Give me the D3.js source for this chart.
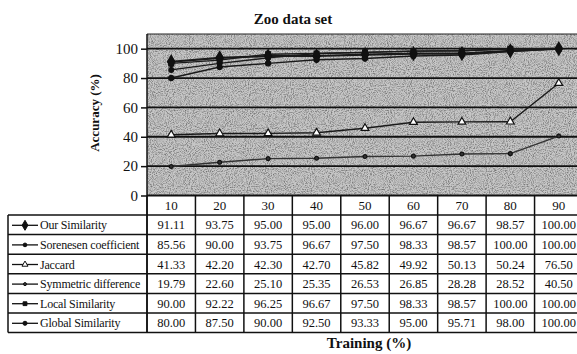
<!DOCTYPE html>
<html>
<head>
<meta charset="utf-8">
<script src="https://cdn.jsdelivr.net/npm/d3@7"></script>
<style>
  html, body { margin: 0; padding: 0; background: #fff; overflow: hidden; }
  svg { display: block; font-family: "Liberation Serif", "Times New Roman", serif; }
</style>
</head>
<body>
<svg id="chart" width="577" height="354"></svg>
<script>
// training percentages (x categories)
const trainingPct = ["10", "20", "30", "40", "50", "60", "70", "80", "90"];
const yTicks = [0, 20, 40, 60, 80, 100];

const seriesNames = ["Our Similarity", "Sorenesen coefficient", "Jaccard",
  "Symmetric difference", "Local Similarity", "Global Similarity"];

const ourSimilarity = [91.11, 93.75, 95.00, 95.00, 96.00, 96.67, 96.67, 98.57, 100.00];
const sorensen = [85.56, 90.00, 93.75, 96.67, 97.50, 98.33, 98.57, 100.00, 100.00];
const jaccard = [41.33, 42.20, 42.30, 42.70, 45.82, 49.92, 50.13, 50.24, 76.50];
const symmetricDiff = [19.79, 22.60, 25.10, 25.35, 26.53, 26.85, 28.28, 28.52, 40.50];
const localSimilarity = [90.00, 92.22, 96.25, 96.67, 97.50, 98.33, 98.57, 100.00, 100.00];
const globalSimilarity = [80.00, 87.50, 90.00, 92.50, 93.33, 95.00, 95.71, 98.00, 100.00];

const seriesValues = [ourSimilarity, sorensen, jaccard, symmetricDiff, localSimilarity, globalSimilarity];

// marker per series
const markers = [
  { type: d3.symbolDiamond, size: 48, fill: "#111" },
  { type: d3.symbolCircle, size: 18, fill: "#111" },
  { type: d3.symbolTriangle, size: 26, fill: "#fff" },
  { type: d3.symbolCircle, size: 12, fill: "#333" },
  { type: d3.symbolSquare, size: 24, fill: "#111" },
  { type: d3.symbolCircle, size: 22, fill: "#111" }
];

const svg = d3.select("#chart");

const plotLeft = 147, plotRight = 583, plotTop = 34, plotBottom = 195.5;
const legendLeft = 8;
const headerBottom = 215, rowH = 19.6;

const x = d3.scaleBand().domain(trainingPct).range([plotLeft, plotRight]);
const y = d3.scaleLinear().domain([0, 110]).range([plotBottom, plotTop]);
const xc = d => x(d) + x.bandwidth() / 2;

// scanned-looking gray texture for the plot area
const defs = svg.append("defs");
const f = defs.append("filter").attr("id", "grain")
  .attr("x", 0).attr("y", 0).attr("width", 1).attr("height", 1);
f.append("feTurbulence").attr("type", "fractalNoise")
  .attr("baseFrequency", 0.95).attr("numOctaves", 2).attr("seed", 4);
f.append("feColorMatrix").attr("type", "matrix")
  .attr("values", "0 0 0 0 0  0 0 0 0 0  0 0 0 0 0  0 0 0 -2.4 1.4");

svg.append("rect")
  .attr("x", plotLeft).attr("y", plotTop)
  .attr("width", plotRight - plotLeft).attr("height", plotBottom - plotTop)
  .attr("fill", "#c6c6c6");
svg.append("rect")
  .attr("x", plotLeft).attr("y", plotTop)
  .attr("width", plotRight - plotLeft).attr("height", plotBottom - plotTop)
  .attr("filter", "url(#grain)")
  .attr("opacity", 0.42);

// top border
svg.append("line")
  .attr("x1", plotLeft).attr("x2", plotRight)
  .attr("y1", plotTop).attr("y2", plotTop)
  .attr("stroke", "#222").attr("stroke-width", 1);

// gridlines
svg.append("g")
  .selectAll("line")
  .data(yTicks)
  .join("line")
  .attr("x1", plotLeft).attr("x2", plotRight)
  .attr("y1", d => y(d)).attr("y2", d => y(d))
  .attr("stroke", "#111").attr("stroke-width", 1.8);

// y axis
const yAxis = svg.append("g")
  .attr("transform", `translate(${plotLeft},0)`)
  .call(d3.axisLeft(y).tickValues(yTicks).tickSize(6).tickPadding(3));
yAxis.select(".domain").attr("stroke", "#111").attr("stroke-width", 1.5)
  .attr("d", `M0,${plotTop}V${headerBottom + rowH * 6}`);
yAxis.selectAll(".tick line").attr("stroke", "#111").attr("stroke-width", 1.5);
yAxis.selectAll(".tick text")
  .attr("fill", "#111")
  .style("font-size", "15px")
  .style("font-family", "'Liberation Serif', serif");

// series lines and markers
const line = d3.line()
  .x((d, i) => xc(trainingPct[i]))
  .y(d => y(d));

seriesValues.forEach((vals, si) => {
  const g = svg.append("g");
  g.append("path")
    .datum(vals)
    .attr("d", line)
    .attr("fill", "none")
    .attr("stroke", si === 3 ? "#333" : "#1a1a1a")
    .attr("stroke-width", si === 0 ? 2.2 : 1.4);
  g.selectAll("path.m")
    .data(vals)
    .join("path")
    .attr("class", "m")
    .attr("transform", (d, i) => `translate(${xc(trainingPct[i])},${y(d)})`)
    .attr("d", d3.symbol().type(markers[si].type).size(markers[si].size))
    .attr("fill", markers[si].fill)
    .attr("stroke", "#111")
    .attr("stroke-width", 1.2);
});

// data table
const tableBottom = headerBottom + rowH * 6;
const table = svg.append("g").attr("stroke", "#111").attr("stroke-width", 1.5);

// vertical column separators
const colEdges = trainingPct.map(d => x(d)).concat([plotRight]);
table.selectAll("line.v")
  .data(colEdges)
  .join("line")
  .attr("class", "v")
  .attr("x1", d => d).attr("x2", d => d)
  .attr("y1", plotBottom).attr("y2", tableBottom);

// horizontal row lines
const rowEdges = d3.range(7).map(i => headerBottom + rowH * i);
table.selectAll("line.h")
  .data(rowEdges)
  .join("line")
  .attr("class", "h")
  .attr("x1", legendLeft).attr("x2", plotRight)
  .attr("y1", d => d).attr("y2", d => d);
table.append("line")
  .attr("x1", legendLeft).attr("x2", legendLeft)
  .attr("y1", headerBottom).attr("y2", tableBottom);

// header labels
svg.append("g")
  .selectAll("text")
  .data(trainingPct)
  .join("text")
  .attr("x", d => xc(d))
  .attr("y", (plotBottom + headerBottom) / 2 + 5)
  .attr("text-anchor", "middle")
  .attr("fill", "#111")
  .style("font-size", "13px")
  .text(d => d);

// value cells
seriesValues.forEach((vals, si) => {
  const cy = headerBottom + rowH * si + rowH / 2 + 4.5;
  svg.append("g")
    .selectAll("text")
    .data(vals)
    .join("text")
    .attr("x", (d, i) => xc(trainingPct[i]))
    .attr("y", cy)
    .attr("text-anchor", "middle")
    .attr("fill", "#111")
    .style("font-size", "12.5px")
    .text(d => d.toFixed(2));

  // legend cell
  const lg = svg.append("g");
  lg.append("line")
    .attr("x1", 12).attr("x2", 38)
    .attr("y1", cy - 4).attr("y2", cy - 4)
    .attr("stroke", "#111").attr("stroke-width", 1.3);
  lg.append("path")
    .attr("transform", `translate(25,${cy - 4})`)
    .attr("d", d3.symbol().type(markers[si].type).size(markers[si].size * 0.6))
    .attr("fill", markers[si].fill)
    .attr("stroke", "#111")
    .attr("stroke-width", 1);
  lg.append("text")
    .attr("x", 40)
    .attr("y", cy)
    .attr("fill", "#111")
    .style("font-size", "12px")
    .style("letter-spacing", "-0.2px")
    .text(seriesNames[si]);
});

// titles
svg.append("text")
  .attr("x", 293).attr("y", 24)
  .attr("text-anchor", "middle")
  .attr("fill", "#111")
  .style("font-size", "15px")
  .style("font-weight", "bold")
  .text("Zoo data set");

svg.append("text")
  .attr("x", 369).attr("y", 348)
  .attr("text-anchor", "middle")
  .attr("fill", "#111")
  .style("font-size", "15px")
  .style("font-weight", "bold")
  .text("Training (%)");

svg.append("text")
  .attr("transform", "translate(99,113) rotate(-90)")
  .attr("text-anchor", "middle")
  .attr("fill", "#111")
  .style("font-size", "13px")
  .style("font-weight", "bold")
  .text("Accuracy (%)");
</script>
</body>
</html>
